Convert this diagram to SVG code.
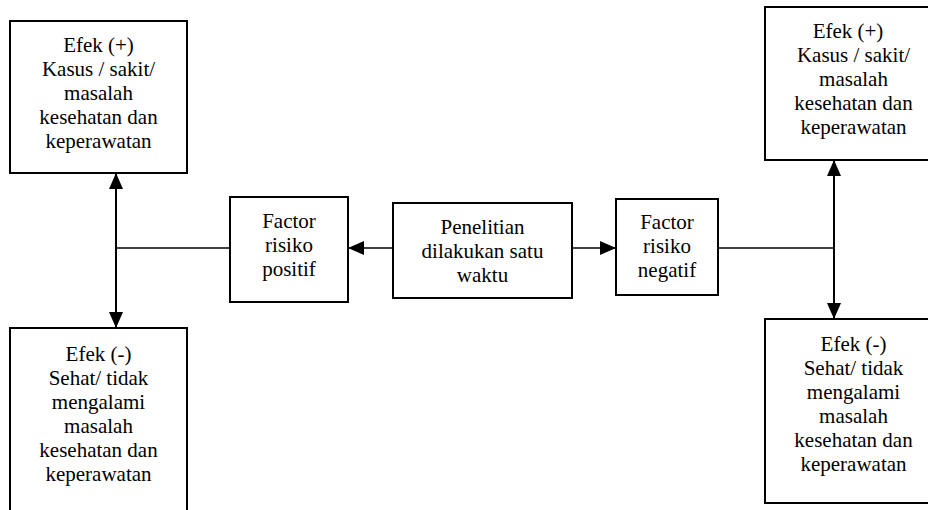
<svg xmlns="http://www.w3.org/2000/svg" width="928" height="510" viewBox="0 0 928 510">
  <style>
    .box { fill: #ffffff; stroke: #000000; stroke-width: 2; }
    .lbl { font-family: "Liberation Serif", "Times New Roman", serif; font-size: 21px; fill: #000000; text-anchor: middle; }
    .wire { fill: none; stroke: #000000; stroke-width: 1.6; }
    .wire-v { fill: none; stroke: #000000; stroke-width: 2; }
  </style>
  <defs>
    <marker id="arrow" markerUnits="userSpaceOnUse" markerWidth="16" markerHeight="14" refX="16" refY="7" orient="auto">
      <path d="M0,0 L16,7 L0,14 z" fill="#000000"/>
    </marker>
  </defs>

  <rect width="928" height="510" fill="#ffffff"/>

  <!-- connectors -->
  <g id="connectors">
    <line class="wire" x1="116" y1="248" x2="230" y2="248"/>
    <line class="wire-v" x1="116" y1="248" x2="116" y2="173" marker-end="url(#arrow)"/>
    <line class="wire-v" x1="116" y1="248" x2="116" y2="328" marker-end="url(#arrow)"/>
    <line class="wire" x1="393" y1="248" x2="348" y2="248" marker-end="url(#arrow)"/>
    <line class="wire" x1="572" y1="248" x2="616" y2="248" marker-end="url(#arrow)"/>
    <line class="wire" x1="718" y1="248" x2="834" y2="248"/>
    <line class="wire-v" x1="834" y1="248" x2="834" y2="160" marker-end="url(#arrow)"/>
    <line class="wire-v" x1="834" y1="248" x2="834" y2="319" marker-end="url(#arrow)"/>
  </g>

  <!-- effect (+), left -->
  <g id="efek-plus-left">
    <rect class="box" x="10" y="21" width="177" height="152"/>
    <text class="lbl" x="98.5" y="52">Efek (+)</text>
    <text class="lbl" x="98.5" y="76">Kasus / sakit/</text>
    <text class="lbl" x="98.5" y="100">masalah</text>
    <text class="lbl" x="98.5" y="124">kesehatan dan</text>
    <text class="lbl" x="98.5" y="148">keperawatan</text>
  </g>

  <!-- effect (-), left -->
  <g id="efek-minus-left">
    <rect class="box" x="10" y="328" width="177" height="200"/>
    <text class="lbl" x="98.5" y="361">Efek (-)</text>
    <text class="lbl" x="98.5" y="385">Sehat/ tidak</text>
    <text class="lbl" x="98.5" y="409">mengalami</text>
    <text class="lbl" x="98.5" y="433">masalah</text>
    <text class="lbl" x="98.5" y="457">kesehatan dan</text>
    <text class="lbl" x="98.5" y="481">keperawatan</text>
  </g>

  <!-- positive risk factor -->
  <g id="factor-positif">
    <rect class="box" x="230" y="197" width="118" height="105"/>
    <text class="lbl" x="289" y="228">Factor</text>
    <text class="lbl" x="289" y="252">risiko</text>
    <text class="lbl" x="289" y="276">positif</text>
  </g>

  <!-- study done at one time -->
  <g id="penelitian">
    <rect class="box" x="393" y="203" width="179" height="95"/>
    <text class="lbl" x="482.5" y="234">Penelitian</text>
    <text class="lbl" x="482.5" y="258">dilakukan satu</text>
    <text class="lbl" x="482.5" y="282">waktu</text>
  </g>

  <!-- negative risk factor -->
  <g id="factor-negatif">
    <rect class="box" x="616" y="199" width="102" height="96"/>
    <text class="lbl" x="667" y="229">Factor</text>
    <text class="lbl" x="667" y="253">risiko</text>
    <text class="lbl" x="667" y="277">negatif</text>
  </g>

  <!-- effect (+), right -->
  <g id="efek-plus-right">
    <rect class="box" x="765" y="7" width="177" height="153"/>
    <text class="lbl" x="848" y="38">Efek (+)</text>
    <text class="lbl" x="853.5" y="62">Kasus / sakit/</text>
    <text class="lbl" x="853.5" y="86">masalah</text>
    <text class="lbl" x="853.5" y="110">kesehatan dan</text>
    <text class="lbl" x="853.5" y="134">keperawatan</text>
  </g>

  <!-- effect (-), right -->
  <g id="efek-minus-right">
    <rect class="box" x="765" y="319" width="177" height="184"/>
    <text class="lbl" x="853.5" y="351">Efek (-)</text>
    <text class="lbl" x="853.5" y="375">Sehat/ tidak</text>
    <text class="lbl" x="853.5" y="399">mengalami</text>
    <text class="lbl" x="853.5" y="423">masalah</text>
    <text class="lbl" x="853.5" y="447">kesehatan dan</text>
    <text class="lbl" x="853.5" y="471">keperawatan</text>
  </g>
</svg>
